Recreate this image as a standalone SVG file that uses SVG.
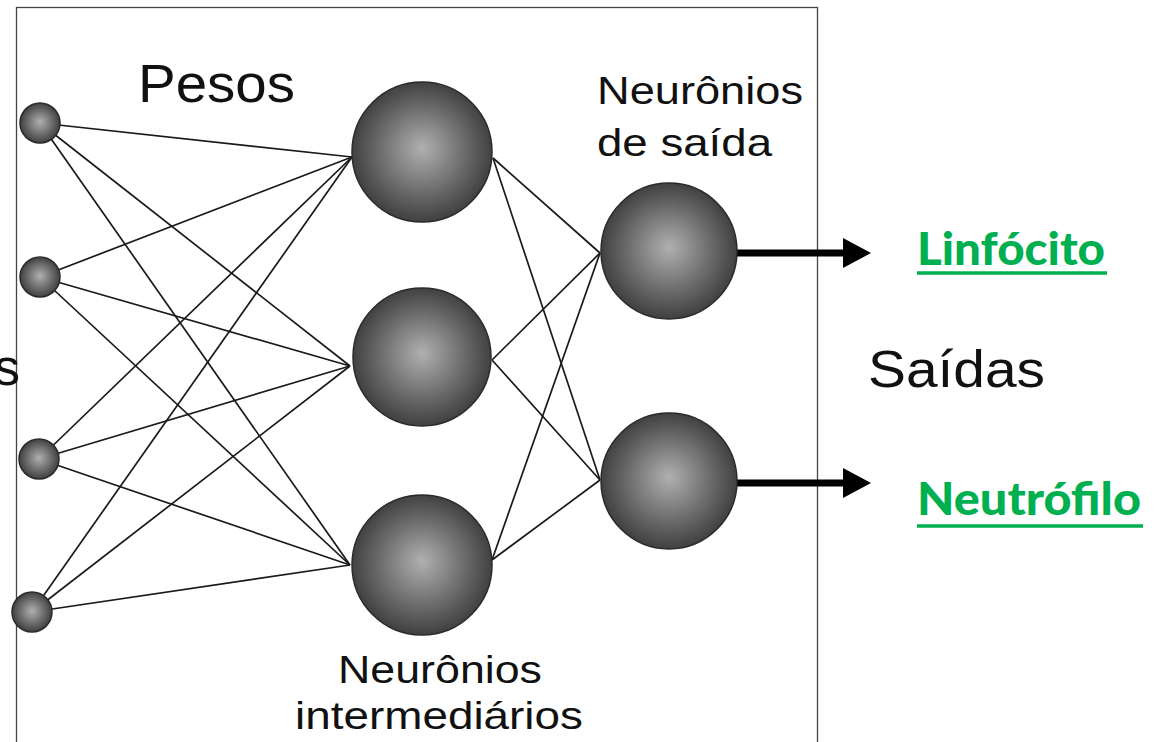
<svg xmlns="http://www.w3.org/2000/svg" width="1154" height="742" viewBox="0 0 1154 742">
  <style>
    .frame { fill: none; stroke: #444; stroke-width: 1.3; }
    .link { stroke: #1a1a1a; stroke-width: 1.7; fill: none; }
    .out-arrow { stroke: #000; stroke-width: 7; fill: none; }
    .sphere { fill: url(#sphereGrad); stroke: #2a2a2a; stroke-width: 1.5; }
    .label { font-family: "Liberation Sans", Arial, sans-serif; fill: #111; }
    .result { font-family: Lato, "Open Sans", sans-serif; font-weight: 900; fill: #00b050; }
    .uline { stroke: #00b050; stroke-width: 3.5; }
  </style>
  <defs>
    <radialGradient id="sphereGrad" cx="0.5" cy="0.5" r="0.55" fx="0.5" fy="0.47">
      <stop offset="0" stop-color="#b0b0b0"/>
      <stop offset="0.55" stop-color="#6c6c6c"/>
      <stop offset="1" stop-color="#363636"/>
    </radialGradient>
    <marker id="arrowHead" viewBox="0 0 28 30" refX="0" refY="15" markerWidth="28" markerHeight="30" markerUnits="userSpaceOnUse" orient="auto">
      <path d="M0,0 L28,15 L0,30 Z" fill="#000"/>
    </marker>
  </defs>

  <rect width="1154" height="742" fill="#fff"/>
  <rect class="frame" x="16.5" y="7.5" width="801" height="760"/>

  <!-- weights: input layer to hidden layer, hidden layer to output layer -->
  <g id="connectors">
    <line class="link" x1="40" y1="123" x2="352" y2="157"/>
    <line class="link" x1="40" y1="123" x2="350" y2="366"/>
    <line class="link" x1="40" y1="123" x2="350" y2="565"/>
    <line class="link" x1="40" y1="277" x2="352" y2="157"/>
    <line class="link" x1="40" y1="277" x2="350" y2="366"/>
    <line class="link" x1="40" y1="277" x2="350" y2="565"/>
    <line class="link" x1="39" y1="459" x2="352" y2="157"/>
    <line class="link" x1="39" y1="459" x2="350" y2="366"/>
    <line class="link" x1="39" y1="459" x2="350" y2="565"/>
    <line class="link" x1="32" y1="612" x2="352" y2="157"/>
    <line class="link" x1="32" y1="612" x2="350" y2="366"/>
    <line class="link" x1="32" y1="612" x2="350" y2="565"/>

    <line class="link" x1="493" y1="158" x2="600" y2="253"/>
    <line class="link" x1="493" y1="158" x2="600" y2="480"/>
    <line class="link" x1="492" y1="360" x2="600" y2="253"/>
    <line class="link" x1="492" y1="360" x2="600" y2="480"/>
    <line class="link" x1="492" y1="560" x2="600" y2="253"/>
    <line class="link" x1="492" y1="560" x2="600" y2="480"/>

    <line class="out-arrow" x1="736" y1="253" x2="843" y2="253" marker-end="url(#arrowHead)"/>
    <line class="out-arrow" x1="736" y1="483" x2="843" y2="483" marker-end="url(#arrowHead)"/>
  </g>

  <!-- input neurons -->
  <g id="input-1"><circle class="sphere" cx="40" cy="123" r="20"/></g>
  <g id="input-2"><circle class="sphere" cx="40" cy="277" r="20"/></g>
  <g id="input-3"><circle class="sphere" cx="39" cy="459" r="20"/></g>
  <g id="input-4"><circle class="sphere" cx="32" cy="612" r="20"/></g>

  <!-- hidden neurons -->
  <g id="hidden-1"><circle class="sphere" cx="422" cy="152" r="70"/></g>
  <g id="hidden-2"><circle class="sphere" cx="422" cy="357" r="69"/></g>
  <g id="hidden-3"><circle class="sphere" cx="422" cy="565" r="70"/></g>

  <!-- output neurons -->
  <g id="output-1"><circle class="sphere" cx="669" cy="251" r="68"/></g>
  <g id="output-2"><circle class="sphere" cx="669" cy="481" r="68"/></g>

  <!-- labels -->
  <g id="labels">
    <text class="label" x="-6" y="385" font-size="52">s</text>
    <text class="label" x="138" y="102" font-size="54" textLength="157" lengthAdjust="spacingAndGlyphs">Pesos</text>
    <text class="label" x="597" y="104" font-size="39" textLength="206" lengthAdjust="spacingAndGlyphs">Neurônios</text>
    <text class="label" x="597" y="156" font-size="39" textLength="175" lengthAdjust="spacingAndGlyphs">de saída</text>
    <text class="label" x="338" y="683" font-size="39" textLength="204" lengthAdjust="spacingAndGlyphs">Neurônios</text>
    <text class="label" x="295" y="729" font-size="39" textLength="288" lengthAdjust="spacingAndGlyphs">intermediários</text>
    <text class="label" x="868" y="387" font-size="52" textLength="177" lengthAdjust="spacingAndGlyphs">Saídas</text>
  </g>

  <g id="result-linfocito">
    <text class="result" x="917" y="265" font-size="45" textLength="188" lengthAdjust="spacingAndGlyphs">Linfócito</text>
    <line class="uline" x1="917" y1="273" x2="1107" y2="273"/>
  </g>
  <g id="result-neutrofilo">
    <text class="result" x="917" y="515" font-size="45" textLength="224" lengthAdjust="spacingAndGlyphs">Neutrófilo</text>
    <line class="uline" x1="917" y1="526" x2="1143" y2="526"/>
  </g>
</svg>
